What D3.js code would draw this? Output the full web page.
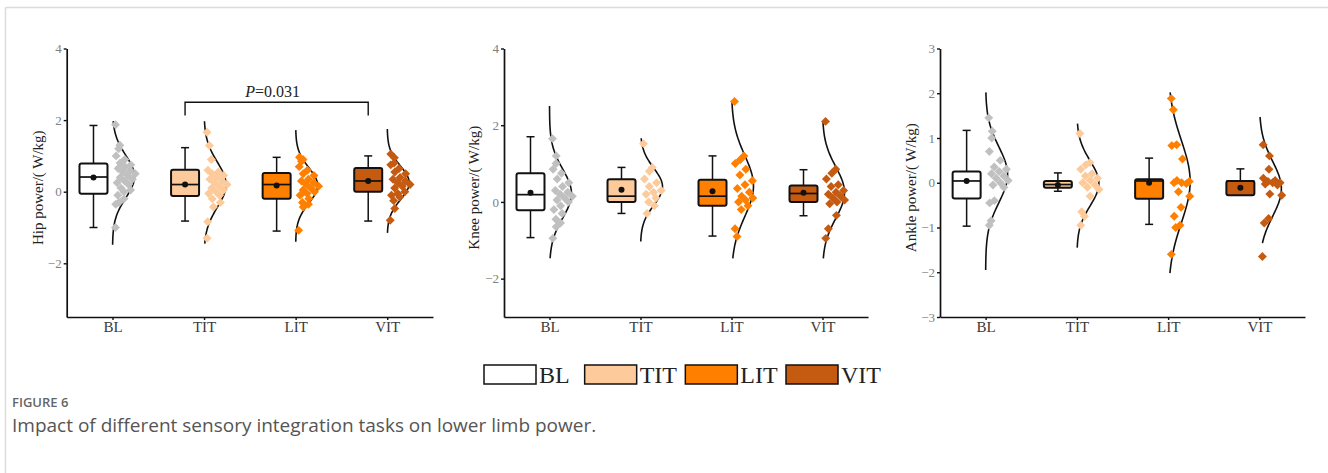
<!DOCTYPE html>
<html>
<head>
<meta charset="utf-8">
<script src="https://cdn.jsdelivr.net/npm/d3@7"></script>
<style>
  body { margin: 0; background: #fff; }
  svg { display: block; }
</style>
</head>
<body>
<svg id="fig" width="1328" height="473"></svg>
<script>
// ...............................
// data

var groups = ["BL", "TIT", "LIT", "VIT"];
var boxFill = ["#ffffff", "#fdcb9b", "#ff8000", "#c55a11"];
var dotFill = ["#c0c0c0", "#fdcb9b", "#ff8000", "#c55a11"];

// hip
var hipWhiskHi = [1.85, 1.23, 0.96, 1.0];
var hipQ3      = [0.79, 0.61, 0.52, 0.66];
var hipMedian  = [0.41, 0.2, 0.2, 0.3];
var hipQ1      = [-0.06, -0.12, -0.2, 0.0];
var hipWhiskLo = [-1.0, -0.82, -1.1, -0.82];
var hipMean    = [0.4, 0.2, 0.17, 0.3];
var hipCurve   = [[-1.48, 1.97], [-1.45, 1.97], [-1.4, 1.72], [-1.15, 1.75]];
var hipPoints = [
  [1.87, 1.3, 1.2, 1.0, 0.9, 0.8, 0.75, 0.7, 0.65, 0.6, 0.55, 0.5, 0.45, 0.4, 0.35, 0.3, 0.25, 0.2, 0.1, 0.05, 0.0, -0.1, -0.2, -0.3, -0.35, -1.0],
  [1.66, 1.29, 0.9, 0.6, 0.55, 0.5, 0.45, 0.4, 0.35, 0.3, 0.25, 0.2, 0.15, 0.1, 0.05, 0.0, -0.05, -0.1, -0.2, -0.3, -0.43, -0.84, -1.3],
  [0.96, 0.9, 0.85, 0.7, 0.6, 0.5, 0.45, 0.35, 0.3, 0.25, 0.2, 0.15, 0.1, 0.05, 0.0, -0.05, -0.1, -0.2, -0.3, -0.35, -0.43, -1.08],
  [1.05, 0.95, 0.8, 0.75, 0.65, 0.55, 0.5, 0.4, 0.35, 0.3, 0.25, 0.2, 0.15, 0.1, 0.0, -0.05, -0.1, -0.15, -0.25, -0.47, -0.8]
];

// knee
var kneeWhiskHi = [1.7, 0.9, 1.2, 0.84];
var kneeQ3      = [0.75, 0.59, 0.58, 0.43];
var kneeMedian  = [0.19, 0.15, 0.15, 0.22];
var kneeQ1      = [-0.22, 0.0, -0.1, 0.0];
var kneeWhiskLo = [-0.93, -0.3, -0.89, -0.36];
var kneeMean    = [0.24, 0.32, 0.28, 0.24];
var kneeCurve   = [[-1.47, 2.5], [-1.03, 1.66], [-1.47, 2.59], [-1.47, 2.1]];
var kneePoints = [
  [1.65, 1.2, 1.0, 0.85, 0.75, 0.6, 0.5, 0.4, 0.3, 0.25, 0.2, 0.15, 0.1, 0.05, 0.0, -0.1, -0.2, -0.3, -0.45, -0.55, -0.65, -0.95],
  [1.52, 0.9, 0.8, 0.6, 0.5, 0.4, 0.3, 0.25, 0.2, 0.1, 0.0, -0.1, -0.3],
  [2.62, 1.2, 1.1, 1.0, 0.85, 0.7, 0.55, 0.45, 0.35, 0.25, 0.15, 0.1, 0.05, 0.0, -0.1, -0.2, -0.7, -0.9],
  [2.1, 0.85, 0.75, 0.6, 0.45, 0.4, 0.3, 0.25, 0.2, 0.15, 0.1, 0.05, 0.0, -0.05, -0.35, -0.7, -0.95]
];

// ankle
var ankleWhiskHi = [1.17, 0.22, 0.55, 0.31];
var ankleQ3      = [0.25, 0.04, 0.08, 0.04];
var ankleMedian  = [0.04, -0.04, 0.04, 0.04];
var ankleQ1      = [-0.35, -0.11, -0.36, -0.28];
var ankleWhiskLo = [-0.97, -0.19, -0.93, -0.28];
var ankleMean    = [0.04, -0.05, 0.0, -0.11];
var ankleCurve   = [[-1.95, 2.02], [-1.45, 1.32], [-2.02, 2.02], [-1.35, 1.47]];
var anklePoints = [
  [1.45, 1.15, 1.0, 0.7, 0.5, 0.35, 0.3, 0.25, 0.2, 0.15, 0.1, 0.05, 0.0, -0.05, -0.1, -0.4, -0.45, -0.85, -0.95],
  [1.1, 0.45, 0.4, 0.3, 0.2, 0.15, 0.1, 0.05, 0.0, -0.05, -0.1, -0.15, -0.3, -0.65, -0.75, -0.95],
  [1.88, 1.63, 0.85, 0.83, 0.53, 0.05, 0.03, 0.0, 0.0, -0.02, -0.2, -0.3, -0.55, -0.75, -0.95, -1.0, -1.6],
  [0.85, 0.6, 0.3, 0.1, 0.05, 0.03, 0.0, 0.0, -0.03, -0.05, -0.25, -0.28, -0.8, -0.9, -1.65]
];

var panels = [
  { title: "Hip power/( W/kg)", domain: [-3.5, 4], ticks: [4, 2, 0, -2],
    hi: hipWhiskHi, q3: hipQ3, med: hipMedian, q1: hipQ1, lo: hipWhiskLo, mean: hipMean,
    curve: hipCurve, points: hipPoints, x0: 66.7, x1: 433, titleX: 38 },
  { title: "Knee power/( W/kg)", domain: [-3, 4], ticks: [4, 2, 0, -2],
    hi: kneeWhiskHi, q3: kneeQ3, med: kneeMedian, q1: kneeQ1, lo: kneeWhiskLo, mean: kneeMean,
    curve: kneeCurve, points: kneePoints, x0: 504, x1: 868, titleX: 474 },
  { title: "Ankle power/( W/kg)", domain: [-3, 3], ticks: [3, 2, 1, 0, -1, -2, -3],
    hi: ankleWhiskHi, q3: ankleQ3, med: ankleMedian, q1: ankleQ1, lo: ankleWhiskLo, mean: ankleMean,
    curve: ankleCurve, points: anklePoints, x0: 940, x1: 1305, titleX: 911 }
];

// ...............................
// drawing

var svg = d3.select("#fig");
var serif = "'Liberation Serif', 'Times New Roman', serif";
var plotTop = 48.5, plotBottom = 317;
var boxOffset = -19, boxW = 28, capW = 8, curveMax = 22;

// frame of the figure block
svg.append("line").attr("x1", 5.5).attr("x2", 1328).attr("y1", 7.5).attr("y2", 7.5)
  .attr("stroke", "#dcdcdc").attr("stroke-width", 1.5);
svg.append("line").attr("x1", 5.5).attr("x2", 5.5).attr("y1", 7.5).attr("y2", 473)
  .attr("stroke", "#dcdcdc").attr("stroke-width", 1.5);

function drawPanel(p) {
  var y = d3.scaleLinear().domain(p.domain).range([plotBottom, plotTop]);
  var x = d3.scalePoint().domain(groups).range([p.x0, p.x1]).padding(0.5);
  var g = svg.append("g");

  // y axis
  var yAxis = g.append("g").attr("transform", "translate(" + p.x0 + ",0)")
    .call(d3.axisLeft(y).tickValues(p.ticks).tickSize(3).tickSizeOuter(0).tickFormat(d3.format("d")));
  yAxis.select(".domain").attr("stroke", "#111").attr("stroke-width", 1.7);
  yAxis.selectAll(".tick line").attr("stroke", "#111").attr("stroke-width", 1.4);
  yAxis.selectAll(".tick text").attr("fill", "#808080")
    .style("font-family", serif).style("font-size", "13px").attr("x", -5);

  // x axis
  var xAxis = g.append("g").attr("transform", "translate(0," + plotBottom + ")")
    .call(d3.axisBottom(x).tickSize(3).tickSizeOuter(0));
  xAxis.select(".domain").attr("stroke", "#111").attr("stroke-width", 1.7);
  xAxis.selectAll(".tick line").attr("stroke", "#111").attr("stroke-width", 1.4);
  xAxis.selectAll(".tick text").attr("fill", "#3a3a3a")
    .style("font-family", serif).style("font-size", "15px").attr("y", 4.5);

  // y title
  g.append("text")
    .attr("transform", "translate(" + p.titleX + "," + ((plotTop + plotBottom) / 2 + 5) + ") rotate(-90)")
    .attr("text-anchor", "middle").attr("dy", "0.35em")
    .style("font-family", serif).style("font-size", "15px").attr("fill", "#222")
    .text(p.title);

  groups.forEach(function (grp, i) {
    var cx = x(grp);
    var bx = cx + boxOffset;
    var pts = p.points[i];
    var m = d3.mean(pts), s = d3.deviation(pts);
    var ext = p.curve[i];
    var ys = d3.range(ext[0], ext[1] + 0.0001, (ext[1] - ext[0]) / 80);
    if (ys[ys.length - 1] < ext[1]) ys.push(ext[1]);
    var dens = function (v) { return Math.exp(-((v - m) * (v - m)) / (2 * s * s)); };
    var dmax = d3.max(ys, dens);
    var wAt = function (v) { return curveMax * dens(v) / dmax; };

    // half distribution curve
    g.append("path")
      .datum(ys)
      .attr("d", d3.line().x(function (v) { return cx + wAt(v); }).y(function (v) { return y(v); }).curve(d3.curveBasis))
      .attr("fill", "none").attr("stroke", "#111").attr("stroke-width", 1.6);

    // points (spread inside the curve)
    g.append("g").selectAll("path").data(pts).enter().append("path")
      .attr("d", d3.symbol().type(d3.symbolSquare).size(40))
      .attr("transform", function (v, k) {
        var frac = (k * 0.618034 + 0.2) % 1;
        var px = cx + 3 + frac * Math.max(0, wAt(v) - 2);
        return "translate(" + px + "," + y(v) + ") rotate(45)";
      })
      .attr("fill", dotFill[i]);

    // whiskers
    g.append("line").attr("x1", bx).attr("x2", bx).attr("y1", y(p.hi[i])).attr("y2", y(p.q3[i]))
      .attr("stroke", "#111").attr("stroke-width", 1.5);
    g.append("line").attr("x1", bx).attr("x2", bx).attr("y1", y(p.q1[i])).attr("y2", y(p.lo[i]))
      .attr("stroke", "#111").attr("stroke-width", 1.5);
    [p.hi[i], p.lo[i]].forEach(function (v) {
      g.append("line").attr("x1", bx - capW / 2).attr("x2", bx + capW / 2)
        .attr("y1", y(v)).attr("y2", y(v)).attr("stroke", "#111").attr("stroke-width", 1.5);
    });

    // box
    g.append("rect").attr("x", bx - boxW / 2).attr("width", boxW)
      .attr("y", y(p.q3[i])).attr("height", Math.max(1, y(p.q1[i]) - y(p.q3[i])))
      .attr("rx", 2).attr("fill", boxFill[i]).attr("stroke", "#111").attr("stroke-width", 2);
    g.append("line").attr("x1", bx - boxW / 2).attr("x2", bx + boxW / 2)
      .attr("y1", y(p.med[i])).attr("y2", y(p.med[i])).attr("stroke", "#111").attr("stroke-width", 1.7);
    g.append("circle").attr("cx", bx).attr("cy", y(p.mean[i])).attr("r", 3).attr("fill", "#111");
  });

  return { x: x, y: y, g: g };
}

var drawn = panels.map(drawPanel);

// significance bracket, hip panel TIT vs VIT
var pHip = drawn[0];
var bxA = pHip.x("TIT") + boxOffset, bxB = pHip.x("VIT") + boxOffset;
var brY = pHip.y(2.5), legY = pHip.y(2.13);
pHip.g.append("path")
  .attr("d", "M" + bxA + "," + legY + "V" + brY + "H" + bxB + "V" + legY)
  .attr("fill", "none").attr("stroke", "#111").attr("stroke-width", 1.4);
var pTxt = pHip.g.append("text").attr("x", (bxA + bxB) / 2 - 4).attr("y", brY - 5)
  .attr("text-anchor", "middle").style("font-family", serif).style("font-size", "16px").attr("fill", "#222");
pTxt.append("tspan").style("font-style", "italic").text("P");
pTxt.append("tspan").text("=0.031");

// legend
var legend = svg.append("g").attr("transform", "translate(484,365)");
var legX = d3.scalePoint().domain(groups).range([0, 302]);
groups.forEach(function (grp, i) {
  var lg = legend.append("g").attr("transform", "translate(" + legX(grp) + ",0)");
  lg.append("rect").attr("width", 52).attr("height", 19)
    .attr("fill", boxFill[i]).attr("stroke", "#111").attr("stroke-width", 1.5);
  lg.append("text").attr("x", 55).attr("y", 18)
    .style("font-family", serif).style("font-size", "24px").attr("fill", "#222").text(grp);
});

// caption
svg.append("text").attr("x", 12).attr("y", 407)
  .style("font-family", "'Open Sans', sans-serif").style("font-size", "13px").style("font-weight", 600)
  .attr("fill", "#666").text("FIGURE 6");
svg.append("text").attr("x", 12).attr("y", 432)
  .style("font-family", "'Open Sans', sans-serif").style("font-size", "19px")
  .attr("fill", "#555").text("Impact of different sensory integration tasks on lower limb power.");
</script>
</body>
</html>
